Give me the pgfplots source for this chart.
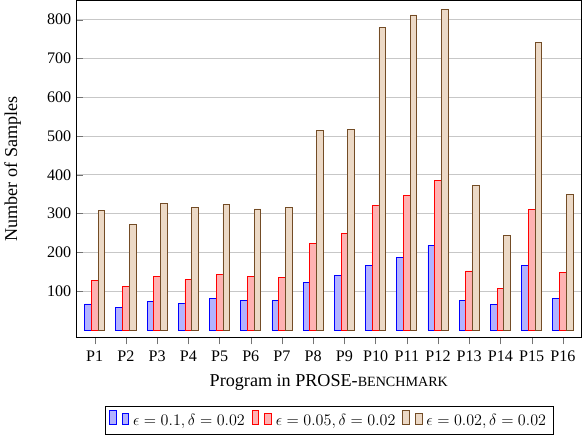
\documentclass[border=0pt]{standalone}
\usepackage{fontspec}
\setmainfont{Liberation Serif}
\usepackage{pgfplots}
\pgfplotsset{compat=1.18}
\begin{document}
\begin{tikzpicture}
% samples per program, three (epsilon, delta) settings
\begin{axis}[
  width=376.5pt, height=251.25pt,
  scale only axis,
  ybar=0pt,
  bar width=5pt,
  xmin=0.4, xmax=16.6,
  ymin=-20, ymax=850,
  xtick={1,...,16},
  xticklabels={P1,P2,P3,P4,P5,P6,P7,P8,P9,P10,P11,P12,P13,P14,P15,P16},
  ytick={100,200,...,800},
  xtick pos=bottom, ytick pos=left,
  xtick align=outside, ytick align=inside,
  major tick length=5pt,
  tick style={black!55},
  ymajorgrids,
  major grid style={black!22, line width=0.6pt},
  every axis plot/.append style={line width=0.6pt},
  tick label style={font=\fontsize{12}{14}\selectfont},
  xticklabel style={yshift=-1.5pt},
  /pgf/number format/assume math mode=true,
  xlabel={Program in PROSE-{\fontsize{10.5}{12}\selectfont BENCHMARK}},
  ylabel={Number of Samples},
  label style={font=\fontsize{13.5}{16}\selectfont},
  xlabel style={at={(axis description cs:0.5,-0.133)}, anchor=center},
  ylabel style={at={(axis description cs:-0.125,0.5)}, anchor=center},
  legend image code/.code={
    \draw[#1, line width=0.6pt] (0pt,-0.2em) rectangle (5pt,0.8em);
    \draw[#1, line width=0.6pt] (9.5pt,-0.2em) rectangle (14.5pt,0.55em);
  },
  legend style={at={(axis description cs:0.5,-0.202)}, anchor=north,
    legend columns=-1, font=\fontsize{12}{14}\selectfont,
    inner ysep=3pt,
    /tikz/every odd column/.append style={column sep=1pt},
    /tikz/every even column/.append style={column sep=3pt}},
]
\addplot coordinates {(1,67) (2,58) (3,73) (4,68) (5,81) (6,75) (7,75) (8,122)
  (9,140) (10,166) (11,188) (12,218) (13,77) (14,65) (15,167) (16,80)};
\addplot coordinates {(1,127) (2,112) (3,139) (4,130) (5,142) (6,137) (7,135) (8,223)
  (9,248) (10,320) (11,346) (12,385) (13,152) (14,108) (15,311) (16,149)};
\addplot coordinates {(1,307) (2,271) (3,327) (4,316) (5,324) (6,312) (7,316) (8,515)
  (9,517) (10,780) (11,812) (12,827) (13,372) (14,243) (15,742) (16,349)};
\legend{{$\epsilon = 0.1, \delta = 0.02$}, {$\epsilon = 0.05, \delta = 0.02$}, {$\epsilon = 0.02, \delta = 0.02$}}
\end{axis}
\end{tikzpicture}
\end{document}
